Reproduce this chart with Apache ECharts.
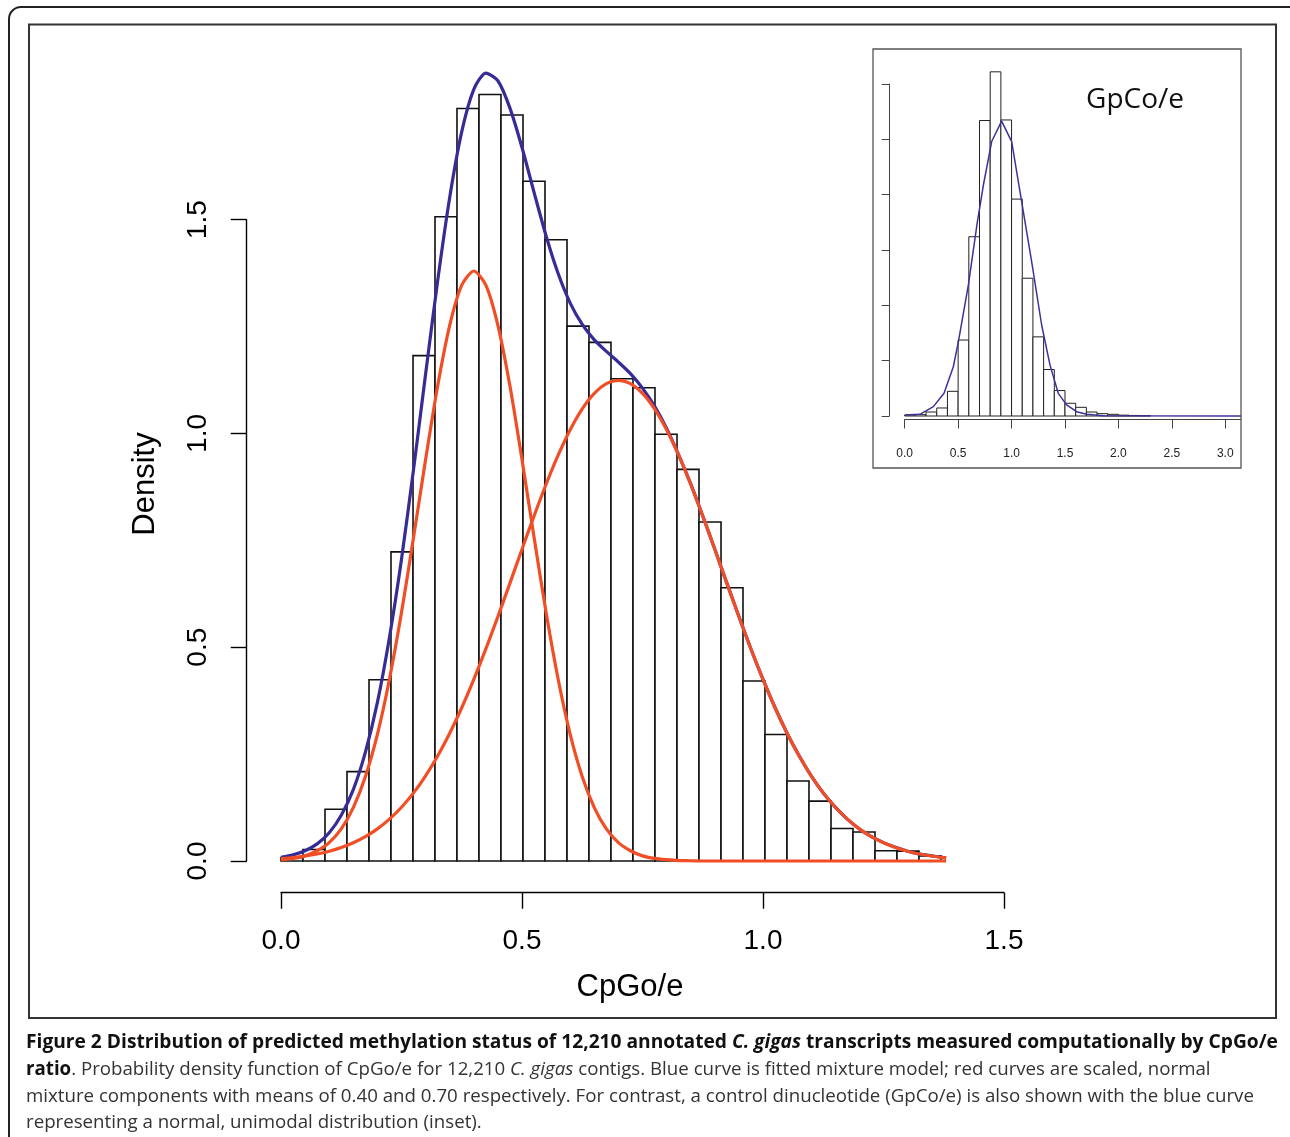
<!DOCTYPE html>
<html><head><meta charset="utf-8">
<script src="https://cdn.jsdelivr.net/npm/echarts@6/dist/echarts.min.js"></script>
<style>html,body{margin:0;padding:0;background:#fff}#c{width:1290px;height:1137px}</style>
</head><body><div id="c"></div>
<script>
// ---- main histogram (CpGo/e) ----
const binEdges = [0, 0.0456, 0.0913, 0.1369, 0.1826, 0.2282, 0.2739, 0.3195, 0.3651, 0.4108, 0.4564,
  0.5021, 0.5477, 0.5934, 0.6390, 0.6846, 0.7303, 0.7759, 0.8216, 0.8672, 0.9129, 0.9585, 1.0041,
  1.0498, 1.0954, 1.1411, 1.1867, 1.2324, 1.2780, 1.3236, 1.3693];
const density = [0.008, 0.027, 0.121, 0.209, 0.424, 0.723, 1.182, 1.507, 1.760, 1.793, 1.745, 1.590,
  1.453, 1.251, 1.213, 1.128, 1.107, 0.998, 0.916, 0.793, 0.639, 0.421, 0.296, 0.187, 0.140, 0.076,
  0.068, 0.024, 0.023, 0.012];
// ---- fitted curves ----
const curveX = [0, 0.025, 0.05, 0.075, 0.1, 0.125, 0.15, 0.175, 0.2, 0.225, 0.25, 0.275, 0.3, 0.325,
  0.35, 0.375, 0.4, 0.425, 0.45, 0.475, 0.5, 0.525, 0.55, 0.575, 0.6, 0.625, 0.65, 0.675, 0.7, 0.725,
  0.75, 0.775, 0.8, 0.825, 0.85, 0.875, 0.9, 0.925, 0.95, 0.975, 1.0, 1.025, 1.05, 1.075, 1.1, 1.125,
  1.15, 1.175, 1.2, 1.225, 1.25, 1.275, 1.3, 1.325, 1.35, 1.375, 1.38];
const mixture = [0.0085, 0.0143, 0.024, 0.040, 0.066, 0.107, 0.167, 0.254, 0.371, 0.523, 0.706, 0.916,
  1.139, 1.357, 1.552, 1.706, 1.805, 1.843, 1.825, 1.761, 1.669, 1.564, 1.462, 1.374, 1.305, 1.255,
  1.219, 1.192, 1.167, 1.140, 1.106, 1.064, 1.012, 0.950, 0.882, 0.807, 0.729, 0.650, 0.572, 0.496,
  0.425, 0.359, 0.299, 0.246, 0.199, 0.159, 0.126, 0.098, 0.075, 0.057, 0.043, 0.032, 0.023, 0.016,
  0.012, 0.008, 0.0075];
const component1 = [0.003, 0.006, 0.012, 0.024, 0.043, 0.075, 0.125, 0.197, 0.296, 0.425, 0.581, 0.757,
  0.939, 1.111, 1.253, 1.347, 1.380, 1.347, 1.253, 1.111, 0.939, 0.757, 0.581, 0.425, 0.296, 0.197,
  0.125, 0.075, 0.043, 0.024, 0.012, 0.006, 0.003, 0.001, 0.0006, 0, 0, 0, 0, 0, 0, 0, 0, 0, 0, 0, 0,
  0, 0, 0, 0, 0, 0, 0, 0, 0, 0];
const component2 = [0.0056, 0.0081, 0.0116, 0.0164, 0.0229, 0.0315, 0.0427, 0.057, 0.0752, 0.098, 0.1258,
  0.1593, 0.1993, 0.2456, 0.2988, 0.3585, 0.4247, 0.496, 0.5717, 0.65, 0.7293, 0.807, 0.8812, 0.9492,
  1.0088, 1.0577, 1.094, 1.1164, 1.124, 1.1164, 1.094, 1.0577, 1.0088, 0.9492, 0.8812, 0.807, 0.7293,
  0.65, 0.5717, 0.496, 0.4247, 0.3585, 0.2988, 0.2456, 0.1993, 0.1593, 0.1258, 0.098, 0.0752, 0.057,
  0.0427, 0.0315, 0.0229, 0.0164, 0.0116, 0.0081, 0.0075];
// ---- inset (GpCo/e) ----
const insetEdges = [0, 0.1, 0.2, 0.3, 0.4, 0.5, 0.6, 0.7, 0.8, 0.9, 1.0, 1.1, 1.2, 1.3, 1.4, 1.5, 1.6,
  1.7, 1.8, 1.9, 2.0, 2.1, 2.2, 2.3];
const insetHeights = [0.018, 0.024, 0.072, 0.145, 0.446, 1.373, 3.24, 5.34, 6.22, 5.35, 3.92, 2.49, 1.43,
  0.84, 0.46, 0.23, 0.157, 0.072, 0.042, 0.03, 0.015, 0.01, 0.006];
const insetCurveX = [0, 0.143, 0.268, 0.368, 0.455, 0.502, 0.596, 0.68, 0.736, 0.814, 0.907, 1.001, 1.095,
  1.188, 1.282, 1.36, 1.437, 1.515, 1.609, 1.703, 1.858, 3.147];
const insetCurveY = [0.018, 0.03, 0.169, 0.41, 0.89, 1.34, 2.37, 3.51, 4.17, 4.96, 5.33, 4.96, 3.87, 2.79,
  1.64, 0.92, 0.41, 0.2, 0.078, 0.03, 0.006, 0];
const mainTicks = [0, 0.5, 1.0, 1.5];
const insetTicks = [0, 0.5, 1.0, 1.5, 2.0, 2.5, 3.0];

const BLUE = '#372b97', RED = '#f24e26';
const histData = density.map((d, i) => [binEdges[i], binEdges[i + 1], d]);
const insetData = insetHeights.map((d, i) => [insetEdges[i], insetEdges[i + 1], d]);
const pair = (xs, ys) => xs.map((x, i) => [x, ys[i]]);

function rectItem(lw, stroke) {
  return function (params, api) {
    const p0 = api.coord([api.value(0), 0]);
    const p1 = api.coord([api.value(1), api.value(2)]);
    return { type: 'rect', shape: { x: p0[0], y: p1[1], width: p1[0] - p0[0], height: p0[1] - p1[1] },
      style: { fill: '#fff', stroke: stroke, lineWidth: lw } };
  };
}
const axisFont = 'Liberation Sans, Arial, Helvetica, sans-serif';
const capFont = 'Open Sans, Noto Sans, sans-serif';

const chart = echarts.init(document.getElementById('c'), null, { renderer: 'canvas' });
chart.setOption({
  animation: false,
  backgroundColor: '#fff',
  grid: [
    { left: 281, top: 219.7, width: 723, height: 641.3, containLabel: false },
    { left: 904.7, top: 84, width: 336.3, height: 332, containLabel: false }
  ],
  xAxis: [
    { type: 'value', gridIndex: 0, min: 0, max: 1.5, interval: 0.5, offset: 31.7,
      axisLine: { onZero: false, lineStyle: { color: '#000', width: 1.4 } },
      axisTick: { length: 16, lineStyle: { color: '#000', width: 1.4 } },
      axisLabel: { color: '#000', fontSize: 28, fontFamily: axisFont, margin: 35,
        formatter: v => mainTicks.includes(v) ? v.toFixed(1) : '' },
      splitLine: { show: false } },
    { type: 'value', gridIndex: 1, min: 0, max: 3.147, interval: 0.5, offset: 3.5,
      axisLine: { onZero: false, lineStyle: { color: '#444', width: 1 } },
      axisTick: { length: 9, lineStyle: { color: '#444', width: 1 } },
      axisLabel: { color: '#222', fontSize: 12, fontFamily: axisFont, margin: 28, showMaxLabel: false,
        formatter: v => insetTicks.includes(v) ? v.toFixed(1) : '' },
      splitLine: { show: false } }
  ],
  yAxis: [
    { type: 'value', gridIndex: 0, min: 0, max: 1.5, interval: 0.5, offset: 34.3,
      axisLine: { show: true, onZero: false, lineStyle: { color: '#000', width: 1.4 } },
      axisTick: { show: true, length: 16, lineStyle: { color: '#000', width: 1.4 } },
      axisLabel: { color: '#000', fontSize: 28, fontFamily: axisFont, margin: 34, rotate: 90,
        formatter: v => v.toFixed(1) },
      splitLine: { show: false } },
    { type: 'value', gridIndex: 1, min: 0, max: 6, interval: 1, offset: 15.4,
      axisLine: { show: true, onZero: false, lineStyle: { color: '#444', width: 1 } },
      axisTick: { show: true, length: 7.6, lineStyle: { color: '#444', width: 1 } },
      axisLabel: { show: false }, splitLine: { show: false } }
  ],
  series: [
    { type: 'custom', xAxisIndex: 0, yAxisIndex: 0, data: histData, renderItem: rectItem(1.6, '#111'),
      encode: { x: [0, 1], y: 2 }, clip: false, z: 2 },
    { type: 'line', xAxisIndex: 0, yAxisIndex: 0, data: pair(curveX, mixture), showSymbol: false,
      smooth: 0.25, clip: false, lineStyle: { color: BLUE, width: 3.2, join: 'round' }, z: 3 },
    { type: 'line', xAxisIndex: 0, yAxisIndex: 0, data: pair(curveX, component1), showSymbol: false,
      smooth: 0.25, clip: false, lineStyle: { color: RED, width: 3.2, join: 'round' }, z: 4 },
    { type: 'line', xAxisIndex: 0, yAxisIndex: 0, data: pair(curveX, component2), showSymbol: false,
      smooth: 0.25, clip: false, lineStyle: { color: RED, width: 3.2, join: 'round' }, z: 4 },
    { type: 'custom', xAxisIndex: 1, yAxisIndex: 1, data: insetData, renderItem: rectItem(1, '#222'),
      encode: { x: [0, 1], y: 2 }, clip: false, z: 2 },
    { type: 'line', xAxisIndex: 1, yAxisIndex: 1, data: pair(insetCurveX, insetCurveY), showSymbol: false,
      smooth: false, clip: false, lineStyle: { color: '#3b3399', width: 1.5 }, z: 3 }
  ],
  graphic: [
    { type: 'rect', shape: { x: 9, y: 7, width: 1300, height: 1200, r: 12 },
      style: { fill: 'none', stroke: '#222', lineWidth: 2 }, z: -1 },
    { type: 'rect', shape: { x: 29, y: 24.5, width: 1247, height: 993.5 },
      style: { fill: 'none', stroke: '#333', lineWidth: 2 }, z: -1 },
    { type: 'rect', shape: { x: 873, y: 49, width: 368, height: 419 },
      style: { fill: 'none', stroke: '#555', lineWidth: 1.3 }, z: 1 },
    { type: 'text', x: 1135, y: 100, z: 5,
      style: { text: 'GpCo/e', font: '28px ' + capFont, fill: '#111', textAlign: 'center', textVerticalAlign: 'middle' } },
    { type: 'text', x: 145, y: 484, rotation: Math.PI / 2, z: 5,
      style: { text: 'Density', font: '31px ' + axisFont, fill: '#000', textAlign: 'center', textVerticalAlign: 'middle' } },
    { type: 'text', x: 630, y: 987, z: 5,
      style: { text: 'CpGo/e', font: '31px ' + axisFont, fill: '#000', textAlign: 'center', textVerticalAlign: 'middle' } },
    { type: 'text', x: 26, y: 1043, z: 5,
      style: { text: '{b|Figure 2 Distribution of predicted methylation status of 12,210 annotated }{bi|C. gigas}{b| transcripts measured computationally by CpGo/e}',
        textVerticalAlign: 'middle', rich: {
          b: { font: 'bold 19.2px ' + capFont, fill: '#111' },
          bi: { font: 'italic bold 19.2px ' + capFont, fill: '#111' } } } },
    { type: 'text', x: 26, y: 1070, z: 5,
      style: { text: '{b|ratio}{n|. Probability density function of CpGo/e for 12,210 }{i|C. gigas}{n| contigs. Blue curve is fitted mixture model; red curves are scaled, normal}',
        textVerticalAlign: 'middle', rich: {
          b: { font: 'bold 18.7px ' + capFont, fill: '#111' },
          n: { font: '18.7px ' + capFont, fill: '#333' },
          i: { font: 'italic 18.7px ' + capFont, fill: '#333' } } } },
    { type: 'text', x: 26, y: 1097, z: 5,
      style: { text: 'mixture components with means of 0.40 and 0.70 respectively. For contrast, a control dinucleotide (GpCo/e) is also shown with the blue curve',
        font: '18.7px ' + capFont, fill: '#333', textVerticalAlign: 'middle' } },
    { type: 'text', x: 26, y: 1123, z: 5,
      style: { text: 'representing a normal, unimodal distribution (inset).',
        font: '18.7px ' + capFont, fill: '#333', textVerticalAlign: 'middle' } }
  ]
});
</script></body></html>
